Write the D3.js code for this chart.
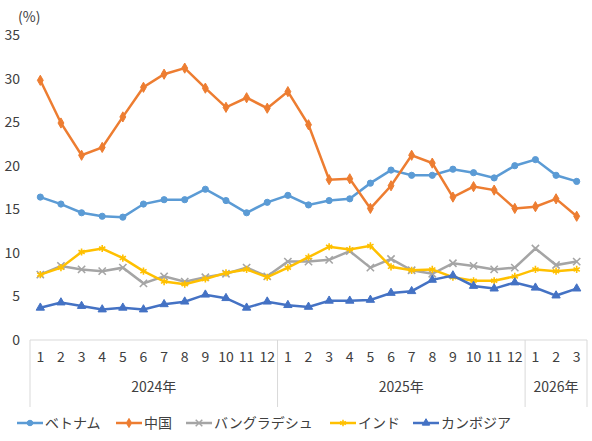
<!DOCTYPE html><html><head><meta charset="utf-8"><script src="https://cdn.jsdelivr.net/npm/d3@7"></script>
<style>body{margin:0;background:#fff}text{font-family:"Noto Sans CJK JP","Noto Sans",sans-serif;fill:#404040}</style></head><body><svg id="c" width="592" height="441"></svg><script>
const months=["1","2","3","4","5","6","7","8","9","10","11","12","1","2","3","4","5","6","7","8","9","10","11","12","1","2","3"];
const years=[{label:"2024年",n:12},{label:"2025年",n:12},{label:"2026年",n:3}];
const yTicks=[0,5,10,15,20,25,30,35];
const vietnam=[16.4,15.6,14.6,14.2,14.1,15.6,16.1,16.1,17.3,16.0,14.6,15.8,16.6,15.5,16.0,16.2,18.0,19.5,18.9,18.9,19.6,19.2,18.6,20.0,20.7,18.9,18.2];
const china=[29.8,24.9,21.2,22.1,25.6,29.0,30.5,31.2,28.9,26.7,27.8,26.6,28.5,24.7,18.4,18.5,15.1,17.7,21.2,20.3,16.4,17.6,17.2,15.1,15.3,16.2,14.2];
const bangladesh=[7.5,8.5,8.1,7.9,8.3,6.5,7.3,6.7,7.2,7.6,8.3,7.3,9.0,9.0,9.2,10.2,8.3,9.3,8.0,7.6,8.8,8.5,8.1,8.3,10.5,8.6,9.0];
const india=[7.5,8.3,10.1,10.5,9.4,7.9,6.7,6.4,7.0,7.7,8.1,7.2,8.3,9.5,10.7,10.4,10.8,8.4,8.0,8.1,7.2,6.8,6.8,7.3,8.1,7.9,8.1];
const cambodia=[3.7,4.3,3.9,3.5,3.7,3.5,4.1,4.4,5.2,4.8,3.7,4.4,4.0,3.8,4.5,4.5,4.6,5.4,5.6,6.9,7.4,6.2,5.9,6.6,6.0,5.1,5.9];
const series=[
 {name:"ベトナム",v:vietnam,c:"#5B9BD5",s:d3.symbolCircle},
 {name:"中国",v:china,c:"#ED7D31",s:d3.symbolDiamond},
 {name:"バングラデシュ",v:bangladesh,c:"#A5A5A5",s:d3.symbolX},
 {name:"インド",v:india,c:"#FFC000",s:d3.symbolAsterisk},
 {name:"カンボジア",v:cambodia,c:"#4472C4",s:d3.symbolTriangle}];
const svg=d3.select("#c");
const x=d3.scaleBand().domain(d3.range(months.length)).range([30,587]);
const y=d3.scaleLinear().domain([0,35]).range([340,35]);
const cx=i=>x(i)+x.bandwidth()/2;
svg.selectAll(".yt").data(yTicks).join("text").attr("x",20).attr("y",d=>y(d)+5).attr("text-anchor","end").attr("font-size",14).text(d=>d);
svg.append("text").attr("x",18).attr("y",22).attr("font-size",14).text("(%)");
svg.append("line").attr("x1",30).attr("x2",587).attr("y1",340).attr("y2",340).attr("stroke","#d9d9d9");
svg.selectAll(".mt").data(months).join("text").attr("x",(d,i)=>cx(i)).attr("y",362).attr("text-anchor","middle").attr("font-size",14).text(d=>d);
let start=0;const bounds=[0];
years.forEach(g=>{const a=x(start),b=x(start+g.n-1)+x.bandwidth();
 svg.append("text").attr("x",(a+b)/2).attr("y",392).attr("text-anchor","middle").attr("font-size",14).text(g.label);
 start+=g.n;bounds.push(start);});
bounds.forEach(k=>{const xx=k<months.length?x(k):587;svg.append("line").attr("x1",xx).attr("x2",xx).attr("y1",340).attr("y2",407).attr("stroke","#d9d9d9");});
series.forEach(s=>{
 svg.append("path").datum(s.v).attr("fill","none").attr("stroke",s.c).attr("stroke-width",2.5)
  .attr("d",d3.line().x((d,i)=>cx(i)).y(d=>y(d)));
 const stroke=(s.s===d3.symbolX||s.s===d3.symbolAsterisk);
 svg.selectAll(null).data(s.v).join("path").attr("transform",(d,i)=>`translate(${cx(i)},${y(d)})`)
  .attr("d",d3.symbol(s.s,stroke?36:30)).attr("fill",stroke?"none":s.c).attr("stroke",s.c).attr("stroke-width",stroke?1.6:1);
});
const lx=[17,116,186,330,413];
series.forEach((s,i)=>{const g=svg.append("g").attr("transform",`translate(${lx[i]},423)`);
 g.append("line").attr("x1",0).attr("x2",26).attr("stroke",s.c).attr("stroke-width",2.5);
 const stroke=(s.s===d3.symbolX||s.s===d3.symbolAsterisk);
 g.append("path").attr("transform","translate(13,0)").attr("d",d3.symbol(s.s,stroke?30:24)).attr("fill",stroke?"none":s.c).attr("stroke",s.c).attr("stroke-width",stroke?1.5:1);
 g.append("text").attr("x",28).attr("y",5).attr("font-size",14).text(s.name);});
</script></body></html>
